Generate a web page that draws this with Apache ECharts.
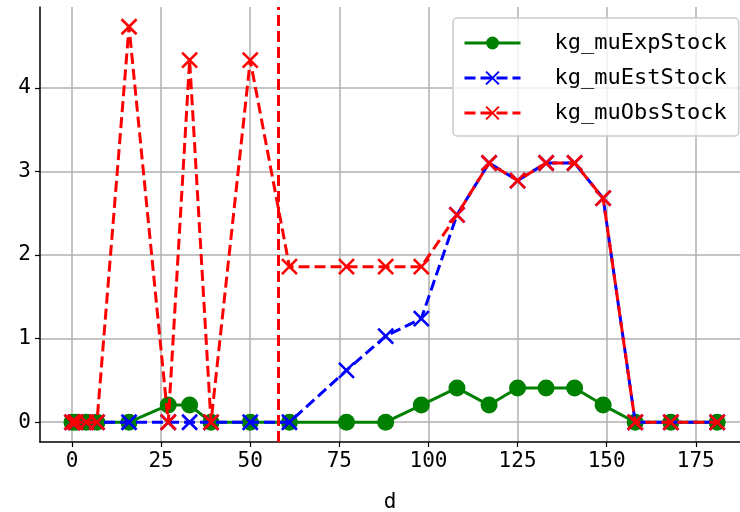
<!DOCTYPE html>
<html><head><meta charset="utf-8">
<script src="https://cdn.jsdelivr.net/npm/echarts@6/dist/echarts.min.js"></script>
<style>html,body{margin:0;padding:0;background:#fff}#c{width:740px;height:512px}</style>
</head><body><div id="c"></div>
<script>
const days = [0,1,4,7,16,27,33,39,50,61,77,88,98,108,117,125,133,141,149,158,168,181];
const muExpStock = [0,0,0,0,0,0.205,0.205,0,0,0,0,0,0.205,0.41,0.205,0.41,0.41,0.41,0.205,0,0,0];
const muEstStock = [0,0,0,0,0,0,0,0,0,0,0.62,1.03,1.24,2.48,3.1,2.89,3.1,3.1,2.68,0,0,0];
const muObsStock = [0,0,0,0,4.73,0,4.33,0,4.33,1.86,1.86,1.86,1.86,2.48,3.1,2.89,3.1,3.1,2.68,0,0,0];
const xTicks = [0,25,50,75,100,125,150,175];
const yTicks = [0,1,2,3,4];
const cutDay = 58;
const seriesNames = ['kg_muExpStock','kg_muEstStock','kg_muObsStock'];

const pairs = arr => days.map((d,i)=>[d,arr[i]]);
const FONT = 'DejaVu Sans Mono';
const cross = 'path://M0,0L10,10M10,0L0,10';
const chart = echarts.init(document.getElementById('c'), null, {renderer:'canvas'});
chart.setOption({
  animation:false,
  backgroundColor:'#fff',
  grid:{left:40, top:7, right:0, bottom:70, containLabel:false, outerBoundsMode:'none'},
  xAxis:{type:'value', min:-8.976, max:187.4,
    name:'d', nameLocation:'middle', nameGap:50,
    nameTextStyle:{fontFamily:FONT, fontSize:21, color:'#000'},
    axisLine:{show:true, onZero:false, lineStyle:{color:'#000', width:1.5}},
    axisTick:{show:true, length:5, customValues:xTicks, lineStyle:{color:'#000', width:1.2}},
    axisLabel:{customValues:xTicks, margin:9, fontFamily:FONT, fontSize:21, color:'#000'},
    splitLine:{show:true, lineStyle:{color:'#b0b0b0', width:1.5}}},
  yAxis:{type:'value', min:-0.2365, max:4.966,
    axisLine:{show:true, onZero:false, lineStyle:{color:'#000', width:1.5}},
    axisTick:{show:true, length:5, customValues:yTicks, lineStyle:{color:'#000', width:1.2}},
    axisLabel:{customValues:yTicks, margin:9, fontFamily:FONT, fontSize:21, color:'#000'},
    splitLine:{show:true, lineStyle:{color:'#b0b0b0', width:1.5}}},
  legend:{orient:'vertical', left:453, top:18, padding:[14,12,12,10],
    itemWidth:56, itemHeight:16, itemGap:13,
    lineStyle:{width:3, inactiveWidth:3},
    backgroundColor:'rgba(255,255,255,0.8)', borderColor:'#cccccc', borderWidth:1.5, borderRadius:4,
    textStyle:{fontFamily:FONT, fontSize:22, color:'#000', lineHeight:22, padding:[0,0,0,29]},
    data:seriesNames},
  series:[
    {name:seriesNames[0], type:'line', data:pairs(muExpStock), color:'#008000',
     symbol:'circle', symbolSize:17, showAllSymbol:true,
     lineStyle:{color:'#008000', width:3}, itemStyle:{color:'#008000'}, z:2},
    {name:seriesNames[1], type:'line', data:pairs(muEstStock), color:'#0000ff',
     symbol:cross, symbolSize:15, showAllSymbol:true,
     lineStyle:{color:'#0000ff', width:3, type:[11,5]},
     itemStyle:{color:'#0000ff', borderColor:'#0000ff', borderWidth:2.6}, z:3},
    {name:seriesNames[2], type:'line', data:pairs(muObsStock), color:'#ff0000',
     symbol:cross, symbolSize:15, showAllSymbol:true,
     lineStyle:{color:'#ff0000', width:3, type:[11,5]},
     itemStyle:{color:'#ff0000', borderColor:'#ff0000', borderWidth:2.6}, z:4,
     markLine:{silent:true, symbol:['none','none'], label:{show:false},
       lineStyle:{color:'#ff0000', width:3, type:[11,5]},
       data:[{xAxis:cutDay}]}}
  ]
});
</script></body></html>
